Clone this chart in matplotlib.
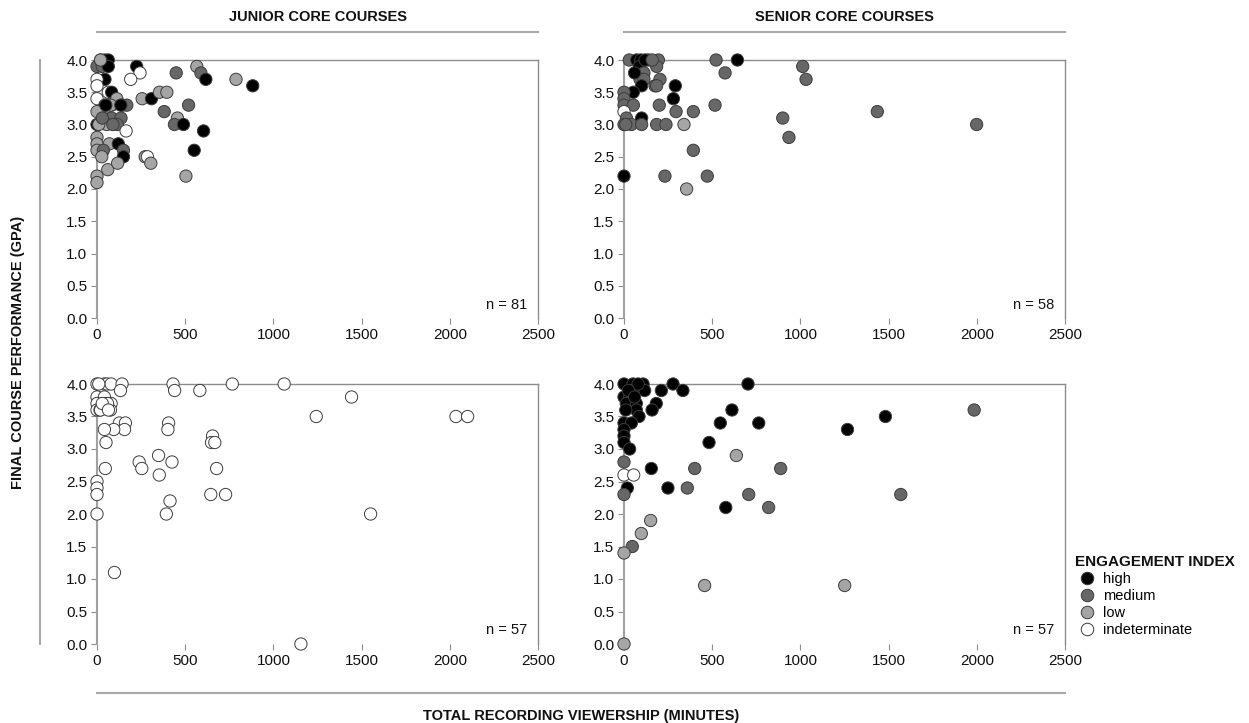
import matplotlib
matplotlib.use("Agg")
import matplotlib.pyplot as plt
from matplotlib.lines import Line2D

plt.rcParams['font.family'] = ['Liberation Sans', 'DejaVu Sans']

# ---------------- data ----------------
levels = ["high", "medium", "low", "indeterminate"]
level_colors = {"high": "#000000", "medium": "#676767", "low": "#a5a5a5", "indeterminate": "#ffffff"}

# Junior core courses (top panel)
jr_top_minutes = [0, 21, 30, 45, 64, 64, 45, 0, 0, 0, 64, 83, 225, 244, 191,
                  449, 566, 589, 617, 788, 883, 256, 309, 354, 396, 381, 519,
                  456, 439, 490, 604, 551, 273, 286, 305, 504,
                  45, 83, 112, 144, 169, 78, 135, 0, 55, 83, 136, 0, 55, 115,
                  165, 0, 0, 0, 70, 121, 150, 36, 150, 27, 61, 117, 0, 0,
                  50, 10, 30, 20, 90]
jr_top_gpa = [3.9, 4.0, 3.9, 4.0, 4.0, 3.9, 3.7, 3.7, 3.6, 3.4, 3.5, 3.5, 3.9, 3.8, 3.7,
              3.8, 3.9, 3.8, 3.7, 3.7, 3.6, 3.4, 3.4, 3.5, 3.5, 3.2, 3.3,
              3.1, 3.0, 3.0, 2.9, 2.6, 2.5, 2.5, 2.4, 2.2,
              3.3, 3.3, 3.4, 3.3, 3.3, 3.3, 3.3, 3.2, 3.1, 3.1, 3.1, 3.0, 3.0, 3.0,
              2.9, 2.8, 2.7, 2.6, 2.7, 2.7, 2.6, 2.6, 2.5, 2.5, 2.3, 2.4, 2.2, 2.1,
              3.3, 3.0, 3.1, 4.0, 3.0]
jr_top_eng = ["medium", "low", "medium", "high", "high", "high", "high", "indeterminate", "indeterminate", "indeterminate", "indeterminate", "high", "high", "indeterminate", "indeterminate",
              "medium", "low", "medium", "high", "low", "high", "low", "high", "low", "low", "medium", "medium",
              "low", "medium", "high", "high", "high", "low", "indeterminate", "low", "low",
              "high", "low", "low", "high", "medium", "low", "high", "low", "low", "medium", "medium", "high", "low", "medium",
              "indeterminate", "low", "low", "low", "low", "high", "medium", "medium", "high", "low", "low", "low", "low", "low",
              "high", "low", "medium", "low", "medium"]

# Senior core courses (top panel)
sr_top_minutes = [30, 72, 95, 138, 195, 522, 643, 87, 185, 1013, 113, 573, 91, 113, 204,
                  1032, 100, 176, 185, 291, 53, 0, 0, 280, 0, 53, 200, 516, 0, 295,
                  393, 1436, 100, 14, 900, 0, 42, 100, 185, 238, 340, 1999, 935,
                  393, 0, 232, 472, 355, 60, 120, 10, 160]
sr_top_gpa = [4.0, 4.0, 4.0, 4.0, 4.0, 4.0, 4.0, 3.9, 3.9, 3.9, 3.8, 3.8, 3.7, 3.7, 3.7,
              3.7, 3.6, 3.6, 3.6, 3.6, 3.5, 3.5, 3.4, 3.4, 3.3, 3.3, 3.3, 3.3, 3.2, 3.2,
              3.2, 3.2, 3.1, 3.1, 3.1, 3.0, 3.0, 3.0, 3.0, 3.0, 3.0, 3.0, 2.8,
              2.6, 2.2, 2.2, 2.2, 2.0, 3.8, 4.0, 3.0, 4.0]
sr_top_eng = ["medium", "high", "high", "medium", "medium", "medium", "high", "high", "medium", "medium", "medium", "medium", "medium", "medium", "medium",
              "medium", "high", "medium", "medium", "high", "high", "medium", "medium", "high", "medium", "medium", "medium", "medium", "indeterminate", "medium",
              "medium", "medium", "high", "medium", "medium", "medium", "medium", "medium", "medium", "medium", "low", "medium", "medium",
              "medium", "high", "medium", "medium", "low", "high", "high", "medium", "medium"]

# Junior core courses (bottom panel, all indeterminate)
jr_bot_minutes = [0, 42, 57, 80, 142, 431, 440, 583, 767, 1061, 1443, 1243, 2035, 2101,
                  0, 42, 42, 80, 0, 0, 17, 76, 133, 127, 161, 156, 95, 42, 51,
                  406, 402, 349, 425, 239, 254, 353, 414, 393, 655, 649, 668, 678,
                  645, 729, 1551, 47, 0, 0, 0, 0, 99, 1156, 20, 60, 10, 30, 65]
jr_bot_gpa = [4.0, 4.0, 4.0, 4.0, 4.0, 4.0, 3.9, 3.9, 4.0, 4.0, 3.8, 3.5, 3.5, 3.5,
              3.8, 3.8, 3.7, 3.7, 3.7, 3.6, 3.6, 3.6, 3.9, 3.4, 3.4, 3.3, 3.3, 3.3, 3.1,
              3.4, 3.3, 2.9, 2.8, 2.8, 2.7, 2.6, 2.2, 2.0, 3.2, 3.1, 3.1, 2.7,
              2.3, 2.3, 2.0, 2.7, 2.5, 2.4, 2.3, 2.0, 1.1, 0.0, 3.6, 3.7, 4.0, 3.7, 3.6]
jr_bot_eng = ["indeterminate"] * len(jr_bot_minutes)

# Senior core courses (bottom panel)
sr_bot_minutes = [0, 51, 108, 117, 51, 0, 32, 51, 13, 70, 70, 85, 0, 42, 0, 0, 0, 32,
                  278, 212, 334, 703, 183, 159, 612, 546, 764, 482, 155, 249, 577, 19,
                  1482, 1267,
                  1985, 1569, 0, 0, 47, 359, 401, 707, 820, 888,
                  637, 151, 98, 0, 457, 1251, 0,
                  0, 55, 80, 25, 60, 10]
sr_bot_gpa = [4.0, 4.0, 4.0, 3.9, 3.9, 3.8, 3.8, 3.8, 3.7, 3.7, 3.6, 3.5, 3.4, 3.4, 3.3, 3.2, 3.1, 3.0,
              4.0, 3.9, 3.9, 4.0, 3.7, 3.6, 3.6, 3.4, 3.4, 3.1, 2.7, 2.4, 2.1, 2.4,
              3.5, 3.3,
              3.6, 2.3, 2.8, 2.3, 1.5, 2.4, 2.7, 2.3, 2.1, 2.7,
              2.9, 1.9, 1.7, 1.4, 0.9, 0.9, 0.0,
              2.6, 2.6, 4.0, 3.9, 3.8, 3.6]
sr_bot_eng = ["high"] * 32 + ["high", "high"] + ["medium"] * 10 + ["low"] * 7 + \
             ["indeterminate", "indeterminate", "high", "high", "high", "high"]

n_labels = ["n = 81", "n = 58", "n = 57", "n = 57"]
panel_titles = ["JUNIOR CORE COURSES", "SENIOR CORE COURSES"]
x_ticks = [0, 500, 1000, 1500, 2000, 2500]
y_ticks = [0.0, 0.5, 1.0, 1.5, 2.0, 2.5, 3.0, 3.5, 4.0]

# ---------------- figure ----------------
W, H = 1249, 723
fig = plt.figure(figsize=(W / 100, H / 100), dpi=100)

def fx(px):
    return px / W

def fy(py):
    return 1 - py / H

lefts = [97, 624]
rights = [538, 1065]
tops = [60, 384]
bottoms = [318, 644]

panels = [
    (0, 0, jr_top_minutes, jr_top_gpa, jr_top_eng, n_labels[0]),
    (0, 1, sr_top_minutes, sr_top_gpa, sr_top_eng, n_labels[1]),
    (1, 0, jr_bot_minutes, jr_bot_gpa, jr_bot_eng, n_labels[2]),
    (1, 1, sr_bot_minutes, sr_bot_gpa, sr_bot_eng, n_labels[3]),
]

spine_col = "#8c8c8c"
for r, c, xs, ys, es, ntxt in panels:
    ax = fig.add_axes([fx(lefts[c]), fy(bottoms[r]), fx(rights[c]) - fx(lefts[c]),
                       fy(tops[r]) - fy(bottoms[r])])
    ax.set_xlim(0, 2500)
    ax.set_ylim(0, 4)
    ax.set_xticks(x_ticks)
    ax.set_yticks(y_ticks)
    ax.set_xticklabels([str(t) for t in x_ticks])
    ax.set_yticklabels([f"{t:.1f}" for t in y_ticks])
    ax.tick_params(axis="both", colors=spine_col, labelcolor="#111111", labelsize=11,
                   length=4, width=0.8, direction="out", pad=3)
    for side in ["left", "top", "right"]:
        ax.spines[side].set_color(spine_col)
        ax.spines[side].set_linewidth(1.0)
    ax.spines["left"].set_color("#a0a0a0")
    ax.spines["left"].set_linewidth(1.5)
    ax.spines["bottom"].set_visible(False)
    cols = [level_colors[e] for e in es]
    ax.scatter(xs, ys, s=78, c=cols, edgecolors="#3c3c3c", linewidths=0.7,
               clip_on=False, zorder=3)
    ax.text(0.975, 0.025, ntxt, transform=ax.transAxes, ha="right", va="bottom",
            fontsize=10.5, color="#111111")

# header titles with lines
for c in range(2):
    mid = (lefts[c] + rights[c]) / 2
    fig.text(fx(mid), fy(17), panel_titles[c], ha="center", va="center",
             fontsize=10.5, fontweight="bold", color="#111111")
    fig.add_artist(Line2D([fx(lefts[c]), fx(rights[c])], [fy(32), fy(32)],
                          color="#a8a8a8", linewidth=1.5))

# left axis label with line
fig.add_artist(Line2D([fx(40), fx(40)], [fy(60), fy(644)], color="#a8a8a8", linewidth=1.5))
fig.text(fx(18), fy(352), "FINAL COURSE PERFORMANCE (GPA)", rotation=90,
         ha="center", va="center", fontsize=10.5, fontweight="bold", color="#111111")

# bottom axis label with line
fig.add_artist(Line2D([fx(97), fx(1065)], [fy(693), fy(693)], color="#a8a8a8", linewidth=1.5))
fig.text(fx(581), fy(716), "TOTAL RECORDING VIEWERSHIP (MINUTES)",
         ha="center", va="center", fontsize=10.5, fontweight="bold", color="#111111")

# legend
fig.text(fx(1075), fy(562), "ENGAGEMENT INDEX", ha="left", va="center",
         fontsize=11, fontweight="bold", color="#111111")
handles = [Line2D([0], [0], marker="o", linestyle="none", markersize=9,
                  markerfacecolor=level_colors[l], markeredgecolor="#3c3c3c",
                  markeredgewidth=0.7) for l in levels]
leg = fig.legend(handles, levels, loc="upper left",
                 bbox_to_anchor=(fx(1081), fy(572)), frameon=False,
                 fontsize=10.5, handlelength=0.8,
                 handletextpad=0.7, labelspacing=0.2, borderaxespad=0,
                 borderpad=0)

fig.savefig("out.png", dpi=100)
